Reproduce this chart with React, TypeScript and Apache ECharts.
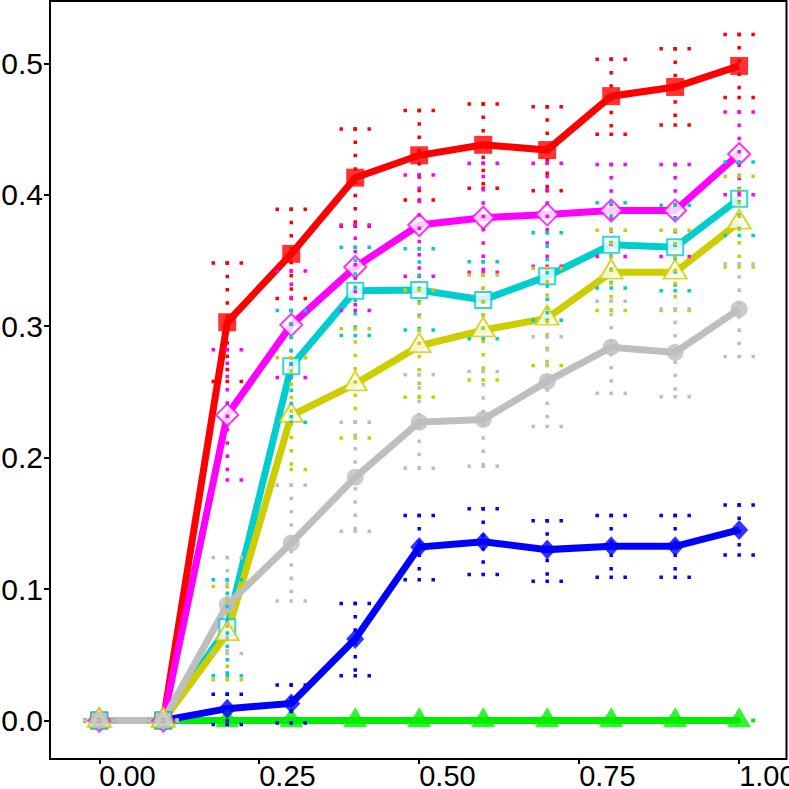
import React, { useEffect, useRef } from "react";
import * as echarts from "echarts";

const XS = [0, 0.1, 0.2, 0.3, 0.4, 0.5, 0.6, 0.7, 0.8, 0.9, 1.0];
const X_TICKS = [0, 0.25, 0.5, 0.75, 1.0];
const Y_TICKS = [0, 0.1, 0.2, 0.3, 0.4, 0.5];

const GREEN = [0, 0, 0, 0, 0, 0, 0, 0, 0, 0, 0];
const GREEN_LO = [0, 0, 0, 0, 0, 0, 0, 0, 0, 0, 0];
const GREEN_HI = [0, 0, 0, 0, 0, 0, 0, 0, 0, 0, 0];

const BLUE = [0, 0, 0.009, 0.013, 0.062, 0.132, 0.136, 0.13, 0.1325, 0.1325, 0.145];
const BLUE_LO = [0, 0, -0.003, -0.002, 0.034, 0.107, 0.111, 0.106, 0.109, 0.109, 0.126];
const BLUE_HI = [0, 0, 0.02, 0.027, 0.089, 0.156, 0.161, 0.152, 0.156, 0.156, 0.164];

const RED = [0, 0, 0.303, 0.355, 0.413, 0.43, 0.438, 0.434, 0.475, 0.482, 0.498];
const RED_LO = [0, 0, 0.258, 0.321, 0.376, 0.396, 0.405, 0.403, 0.446, 0.453, 0.474];
const RED_HI = [0, 0, 0.348, 0.389, 0.45, 0.464, 0.469, 0.467, 0.503, 0.511, 0.522];

const MAGENTA = [0, 0, 0.2325, 0.301, 0.345, 0.377, 0.3825, 0.385, 0.388, 0.388, 0.431];
const MAGENTA_LO = [0, 0, 0.183, 0.261, 0.312, 0.338, 0.341, 0.3455, 0.353, 0.353, 0.4];
const MAGENTA_HI = [0, 0, 0.282, 0.342, 0.377, 0.415, 0.424, 0.424, 0.423, 0.423, 0.463];

const CYAN = [0, 0, 0.071, 0.2695, 0.327, 0.3275, 0.32, 0.338, 0.362, 0.36, 0.397];
const CYAN_LO = [0, 0, 0.034, 0.227, 0.293, 0.297, 0.2905, 0.3045, 0.329, 0.327, 0.369];
const CYAN_HI = [0, 0, 0.107, 0.312, 0.36, 0.359, 0.349, 0.371, 0.394, 0.392, 0.425];

const YELLOW = [0, 0, 0.066, 0.232, 0.256, 0.285, 0.297, 0.306, 0.341, 0.341, 0.379];
const YELLOW_LO = [0, 0, 0.031, 0.191, 0.215, 0.246, 0.259, 0.27, 0.312, 0.312, 0.345];
const YELLOW_HI = [0, 0, 0.102, 0.276, 0.298, 0.3275, 0.339, 0.344, 0.373, 0.373, 0.414];

const GRAY = [0, 0, 0.088, 0.135, 0.185, 0.227, 0.229, 0.258, 0.284, 0.28, 0.313];
const GRAY_LO = [0, 0, 0.051, 0.091, 0.144, 0.192, 0.1935, 0.2236, 0.249, 0.2464, 0.277];
const GRAY_HI = [0, 0, 0.124, 0.179, 0.227, 0.263, 0.2655, 0.292, 0.319, 0.313, 0.3475];

type SeriesDef = {
  name: string;
  color: string;
  values: number[];
  lo: number[];
  hi: number[];
  symbol: string;
  size: number | number[];
  hollow: boolean;
  offset?: number[];
};

const SERIES: SeriesDef[] = [
  { name: "green", color: "#00EE00", values: GREEN, lo: GREEN_LO, hi: GREEN_HI, symbol: "triangle", size: [24, 20], hollow: false, offset: [0, -3.3] },
  { name: "blue", color: "#0000FF", values: BLUE, lo: BLUE_LO, hi: BLUE_HI, symbol: "diamond", size: [18, 20], hollow: false },
  { name: "red", color: "#FF0000", values: RED, lo: RED_LO, hi: RED_HI, symbol: "rect", size: 18, hollow: false },
  { name: "magenta", color: "#FF00FF", values: MAGENTA, lo: MAGENTA_LO, hi: MAGENTA_HI, symbol: "diamond", size: 22, hollow: true },
  { name: "cyan", color: "#00CDCD", values: CYAN, lo: CYAN_LO, hi: CYAN_HI, symbol: "rect", size: 16, hollow: true },
  { name: "yellow", color: "#CDCD00", values: YELLOW, lo: YELLOW_LO, hi: YELLOW_HI, symbol: "triangle", size: [23, 19], hollow: true, offset: [0, -3.2] },
  { name: "gray", color: "#BEBEBE", values: GRAY, lo: GRAY_LO, hi: GRAY_HI, symbol: "circle", size: 17, hollow: false },
];

const FONT = "'Liberation Sans', Arial, Helvetica, sans-serif";

export default function App() {
  const ref = useRef<HTMLDivElement>(null);

  useEffect(() => {
    if (!ref.current) return;
    const chart = echarts.init(ref.current, null, { renderer: "svg" });

    const lineSeries = SERIES.map((s) => ({
      type: "line",
      name: s.name + "-line",
      data: XS.map((x, i) => [x, s.values[i]]),
      showSymbol: false,
      symbol: "none",
      lineStyle: { color: s.color, width: 7, join: "miter" },
      z: 2,
      silent: true,
    }));

    const pointSeries = SERIES.map((s) => ({
      type: "scatter",
      name: s.name + "-pts",
      data: XS.map((x, i) => [x, s.values[i]]),
      symbol: s.symbol,
      symbolSize: s.size,
      symbolOffset: s.offset || [0, 0],
      itemStyle: s.hollow
        ? { color: "#FFFFFF", borderColor: s.color, borderWidth: 2 }
        : { color: s.color, borderWidth: 0 },
      z: 3,
      silent: true,
    }));

    const errSeries = SERIES.map((s) => ({
      type: "custom",
      name: s.name + "-err",
      data: XS.map((x, i) => [x, s.lo[i], s.hi[i]]),
      encode: { x: 0, y: [1, 2] },
      z: 4,
      silent: true,
      renderItem: (params: any, api: any) => {
        const x = api.value(0);
        const lo = api.value(1);
        const hi = api.value(2);
        const pLo = api.coord([x, lo]);
        const pHi = api.coord([x, hi]);
        const dot = 3.5;
        const half = 14;
        const capStyle = {
          stroke: s.color,
          lineWidth: dot,
          lineDash: [dot, half - dot],
          fill: null,
        };
        const children: any[] = [];
        if (Math.abs(pLo[1] - pHi[1]) > 1) {
          children.push({
            type: "line",
            shape: { x1: pHi[0], y1: pHi[1] - dot / 2, x2: pLo[0], y2: pLo[1] },
            style: { stroke: s.color, lineWidth: dot, lineDash: [dot, 9.8], fill: null },
          });
        }
        children.push({
          type: "line",
          shape: { x1: pHi[0] - half - dot / 2, y1: pHi[1], x2: pHi[0] + half + dot / 2, y2: pHi[1] },
          style: capStyle,
        });
        children.push({
          type: "line",
          shape: { x1: pLo[0] - half - dot / 2, y1: pLo[1], x2: pLo[0] + half + dot / 2, y2: pLo[1] },
          style: capStyle,
        });
        return { type: "group", children };
      },
    }));

    chart.setOption({
      animation: false,
      backgroundColor: "#FFFFFF",
      grid: {
        left: 50,
        right: 2.5,
        top: 1,
        bottom: 30,
        show: true,
        borderColor: "#000000",
        borderWidth: 2,
        backgroundColor: "transparent",
        containLabel: false,
        outerBoundsMode: "none",
      },
      xAxis: {
        type: "value",
        min: -0.077,
        max: 1.074,
        axisLine: { show: false, onZero: false },
        splitLine: { show: false },
        axisTick: {
          show: true,
          length: 5,
          lineStyle: { color: "#000000", width: 2 },
          customValues: X_TICKS,
        },
        axisLabel: {
          show: true,
          customValues: X_TICKS,
          formatter: (v: number) => v.toFixed(2),
          align: "left",
          margin: 2,
          fontSize: 29,
          fontFamily: FONT,
          color: "#000000",
        },
      },
      yAxis: {
        type: "value",
        min: -0.0293,
        max: 0.5474,
        axisLine: { show: false, onZero: false },
        splitLine: { show: false },
        axisTick: {
          show: true,
          length: 6,
          lineStyle: { color: "#000000", width: 2 },
          customValues: Y_TICKS,
        },
        axisLabel: {
          show: true,
          customValues: Y_TICKS,
          formatter: (v: number) => v.toFixed(1),
          margin: 7,
          fontSize: 30,
          fontFamily: FONT,
          color: "#000000",
        },
      },
      series: [...lineSeries, ...pointSeries, ...errSeries],
    });

    return () => {
      chart.dispose();
    };
  }, []);

  return (
    <div
      ref={ref}
      style={{ position: "fixed", left: 0, top: 0, width: 789, height: 789, background: "#FFFFFF" }}
    />
  );
}
